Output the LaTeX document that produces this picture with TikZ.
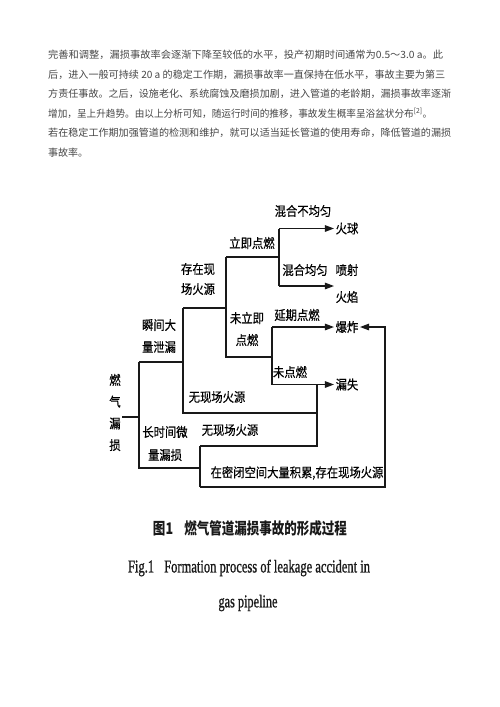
\documentclass[tikz,border=0pt]{standalone}
\usepackage{fontspec}
\setmainfont{Liberation Serif}
\newfontfamily\cjk{Noto Sans CJK SC}
\newfontfamily\cjkl{Noto Sans CJK SC}[FakeStretch=0.87,FakeBold=0.4]
\newfontfamily\capfont{Liberation Serif}[FakeBold=1.2]
\usetikzlibrary{arrows.meta}
\tikzset{
  ln/.style={line width=1.2pt, draw=black!90},
  arr/.style={ln, -{Triangle[length=9pt,width=6.5pt]}},
  lbl/.style={font=\cjkl\fontsize{13}{21}\selectfont, inner sep=1.5pt, align=center},
  bs/.style={font=\cjkl\fontsize{13}{#1}\selectfont},
  para/.style={anchor=west, inner sep=0pt, font=\cjk\fontsize{10}{12}\selectfont, text=black!72},
  capt/.style={inner sep=0pt, text=black!90},
}
\begin{document}
\begin{tikzpicture}[x=1pt,y=-1pt]
\useasboundingbox (0,0) rectangle (500,707);
\fill[white] (0,0) rectangle (500,707);

% paragraph
\node[para] (p1) at (48,55) {\resizebox{395pt}{\height}{完善和调整，漏损事故率会逐渐下降至较低的水平，投产初期时间通常为0.5～3.0 a。此}};
\node[para] (p2) at (48,74.5) {\resizebox{397pt}{\height}{后，进入一般可持续 20 a 的稳定工作期，漏损事故率一直保持在低水平，事故主要为第三}};
\node[para] (p3) at (48,94) {\resizebox{403pt}{\height}{方责任事故。之后，设施老化、系统腐蚀及磨损加剧，进入管道的老龄期，漏损事故率逐渐}};
\node[para] (p4) at (48,113.5) {\resizebox{384pt}{\height}{增加，呈上升趋势。由以上分析可知，随运行时间的推移，事故发生概率呈浴盆状分布\textsuperscript{[2]}。}};
\node[para] (p5) at (48,133) {\resizebox{403pt}{\height}{若在稳定工作期加强管道的检测和维护，就可以适当延长管道的使用寿命，降低管道的漏损}};
\node[para] (p6) at (48,152.5) {事故率。};

% labels
\node[lbl] (hbj) at (303,211) {混合不均匀};
\node[lbl] (hq) at (347,228.5) {火球};
\node[lbl] (ljdr) at (252,243) {立即点燃};
\node[lbl] (hhjy) at (305,270) {混合均匀};
\node[lbl, bs=27] (psh) at (347,283.5) {喷射\\火焰};
\node[lbl, bs=20] (czx) at (198,279) {存在现\\场火源};
\node[lbl, bs=22] (wlj) at (247,329) {未立即\\点燃};
\node[lbl] (yq) at (297,315) {延期点燃};
\node[lbl] (bz) at (347,327) {爆炸};
\node[lbl, bs=22] (sj) at (159,336) {瞬间大\\量泄漏};
\node[lbl, bs=21.7] (root) at (115,412.5) {燃\\气\\漏\\损};
\node[lbl] (wdr) at (290,372) {未点燃};
\node[lbl] (ls) at (347,384.5) {漏失};
\node[lbl] (wx1) at (217,397) {无现场火源};
\node[lbl, bs=23] (csj) at (165,443.5) {长时间微\\量漏损};
\node[lbl] (wx2) at (230,430) {无现场火源};
\node[lbl] (mb) at (297,473) {在密闭空间大量积累,存在现场火源};

% junction coordinates
\coordinate (c1) at (279,228.5);
\coordinate (c2) at (279,286);
\coordinate (c3) at (279,257);
\coordinate (c4) at (226,257);
\coordinate (c5) at (226,308);
\coordinate (c6) at (226,357);
\coordinate (c7) at (183,308);
\coordinate (c8) at (272,357);
\coordinate (c9) at (272,327);
\coordinate (c10) at (272,384.5);
\coordinate (c11) at (183,362);
\coordinate (c12) at (183,413);
\coordinate (c13) at (317,413);
\coordinate (c14) at (317,384.5);
\coordinate (c15) at (317,446);
\coordinate (c16) at (200,446);
\coordinate (c17) at (139,362);
\coordinate (c18) at (139,468);
\coordinate (c19) at (139,417);
\coordinate (c20) at (200,468);
\coordinate (c21) at (200,487);
\coordinate (c22) at (385,487);
\coordinate (c23) at (385,327);

% connectors
\draw[ln] (c1) -- (c2);
\draw[arr] (c1) -- (c1 -| hq.west);
\draw[arr] (c2) -- (c2 -| psh.west);
\draw[ln] (c4) -- (c3);
\draw[ln] (c4) -- (c6) -- (c8);
\draw[ln] (c7) -- (c5);
\draw[ln] (c9) -- (c10);
\draw[arr] (c9) -- (c9 -| bz.west);
\draw[arr] (c10) -- (c10 -| ls.west);
\draw[ln] (c7) -- (c12) -- (c13);
\draw[ln] (c14) -- (c15) -- (c16);
\draw[ln] (c17) -- (c11);
\draw[ln] (c17) -- (c18) -- (c20);
\draw[ln] (root.east |- c19) -- (c19);
\draw[ln] (c16) -- (c21);
\draw[arr] (c21) -- (c22) -- (c23) -- (c23 -| bz.east);

% caption
\node[capt] (cap1) at (250,528) {\resizebox{194pt}{\height}{\cjk\bfseries\fontsize{16}{18}\selectfont 图1\hspace{0.9em}燃气管道漏损事故的形成过程}};
\node[capt] (cap2) at (249,568) {\resizebox{242pt}{\height}{\capfont\fontsize{18}{20}\selectfont Fig.1\hspace{0.8em}Formation process of leakage accident in}};
\node[capt] (cap3) at (248,603) {\resizebox{59pt}{\height}{\capfont\fontsize{18}{20}\selectfont gas pipeline}};
\end{tikzpicture}
\end{document}
